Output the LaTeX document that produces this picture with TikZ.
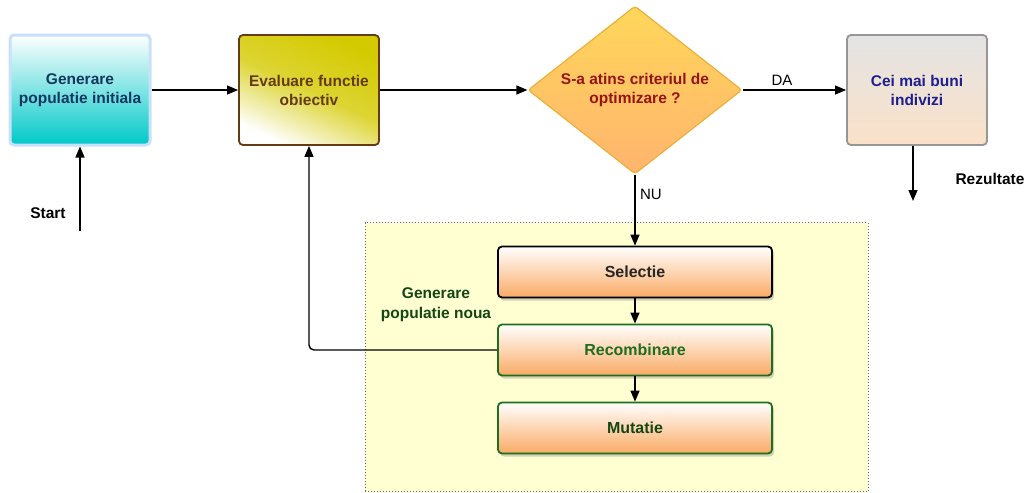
\documentclass[tikz,border=0pt]{standalone}
\usepackage{fontspec}
\setmainfont{Liberation Sans}
\usetikzlibrary{shapes.geometric,shadows,arrows.meta}
\definecolor{cyanb}{RGB}{0,200,200}
\definecolor{lbl}{RGB}{200,225,250}
\definecolor{dblue}{RGB}{20,55,95}
\definecolor{olive}{RGB}{212,202,0}
\definecolor{brn}{RGB}{100,60,20}
\definecolor{dyel}{RGB}{255,215,90}
\definecolor{dora}{RGB}{255,180,110}
\definecolor{dbord}{RGB}{235,175,60}
\definecolor{dred}{RGB}{150,20,20}
\definecolor{gbord}{RGB}{150,150,150}
\definecolor{gtop}{RGB}{228,228,228}
\definecolor{gbot}{RGB}{250,225,200}
\definecolor{navy}{RGB}{30,30,140}
\definecolor{ora}{RGB}{250,170,100}
\definecolor{grn}{RGB}{30,110,30}
\definecolor{dgrn}{RGB}{20,70,20}
\definecolor{regfill}{RGB}{255,255,210}
\definecolor{regdot}{RGB}{110,110,100}
\tikzset{
  box/.style={rectangle, rounded corners=4pt, minimum width=140pt, minimum height=110pt, align=center, font=\bfseries\fontsize{15.5}{19}\selectfont, line width=1.8pt},
  stepbox/.style={rectangle, rounded corners=4pt, minimum width=274pt, minimum height=51pt, align=center, font=\bfseries\fontsize{16}{19}\selectfont, line width=1.8pt, top color=white, bottom color=ora, drop shadow={opacity=0.35, shadow xshift=2pt, shadow yshift=-3pt}},
  conn/.style={line width=1.4pt, -{Triangle[length=11pt,width=9pt]}},
  lab/.style={font=\fontsize{15}{18}\selectfont},
  blab/.style={font=\bfseries\fontsize{15.5}{19}\selectfont, align=center}
}
\begin{document}
\begin{tikzpicture}[x=1pt,y=-1pt]
\useasboundingbox (0,0) rectangle (1029,493);
% region
\node[draw=regdot, dotted, line width=1pt, fill=regfill, minimum width=503pt, minimum height=269pt, inner sep=0pt] (reg) at (616.5,357) {};
\node[blab, text=dgrn, font=\bfseries\fontsize{15.5}{20}\selectfont] (reglab) at (436,305) {Generare\\populatie noua};
% top row
\node[box, draw=lbl, line width=3pt, top color=white, bottom color=cyanb, text=dblue] (gen) at (80,90) {Generare\\populatie initiala};
\node[box, draw=brn, top color=olive, bottom color=white, middle color=olive!80!white, shading angle=-25, text=brn] (eval) at (309,90) {Evaluare functie\\obiectiv};
\node[diamond, aspect=1.27, draw=dbord, line width=1.2pt, top color=dyel, bottom color=dora, minimum width=214pt, minimum height=168pt, inner sep=0pt, rounded corners=3pt, align=center, font=\bfseries\fontsize{15.5}{19}\selectfont, text=dred] (dec) at (635,90) {S-a atins criteriul de\\optimizare ?};
\node[box, draw=gbord, top color=gtop, bottom color=gbot, text=navy] (best) at (917,90) {Cei mai buni\\indivizi};
% steps
\node[stepbox, draw=black, text=black!85] (sel) at (635,272) {Selectie};
\node[stepbox, draw=grn, text=grn] (rec) at (635,350) {Recombinare};
\node[stepbox, draw=grn, text=dgrn] (mut) at (635,428) {Mutatie};
% free ends
\coordinate (startpt) at (80,231);
\coordinate (respt) at (913,201);
\node[blab, text=black] (startlab) at (48,213) {Start};
\node[blab, text=black] (reslab) at (990,179) {Rezultate};
% connectors
\draw[conn] (startpt) -- (gen.south);
\draw[conn] (gen.east) -- (eval.west);
\draw[conn] (eval.east) -- (dec.west);
\draw[conn] (dec.east) -- node[lab, above, pos=0.38] (dalab) {DA} (best.west);
\draw[conn] (best.south -| respt) -- (respt);
\draw[conn] (dec.south) -- node[lab, right, pos=0.28, xshift=1pt] (nulab) {NU} (sel.north);
\draw[conn] (sel.south) -- (rec.north);
\draw[conn] (rec.south) -- (mut.north);
\draw[conn, rounded corners=5pt] (rec.west) -- (rec.west -| eval.south) -- (eval.south);
\end{tikzpicture}
\end{document}
